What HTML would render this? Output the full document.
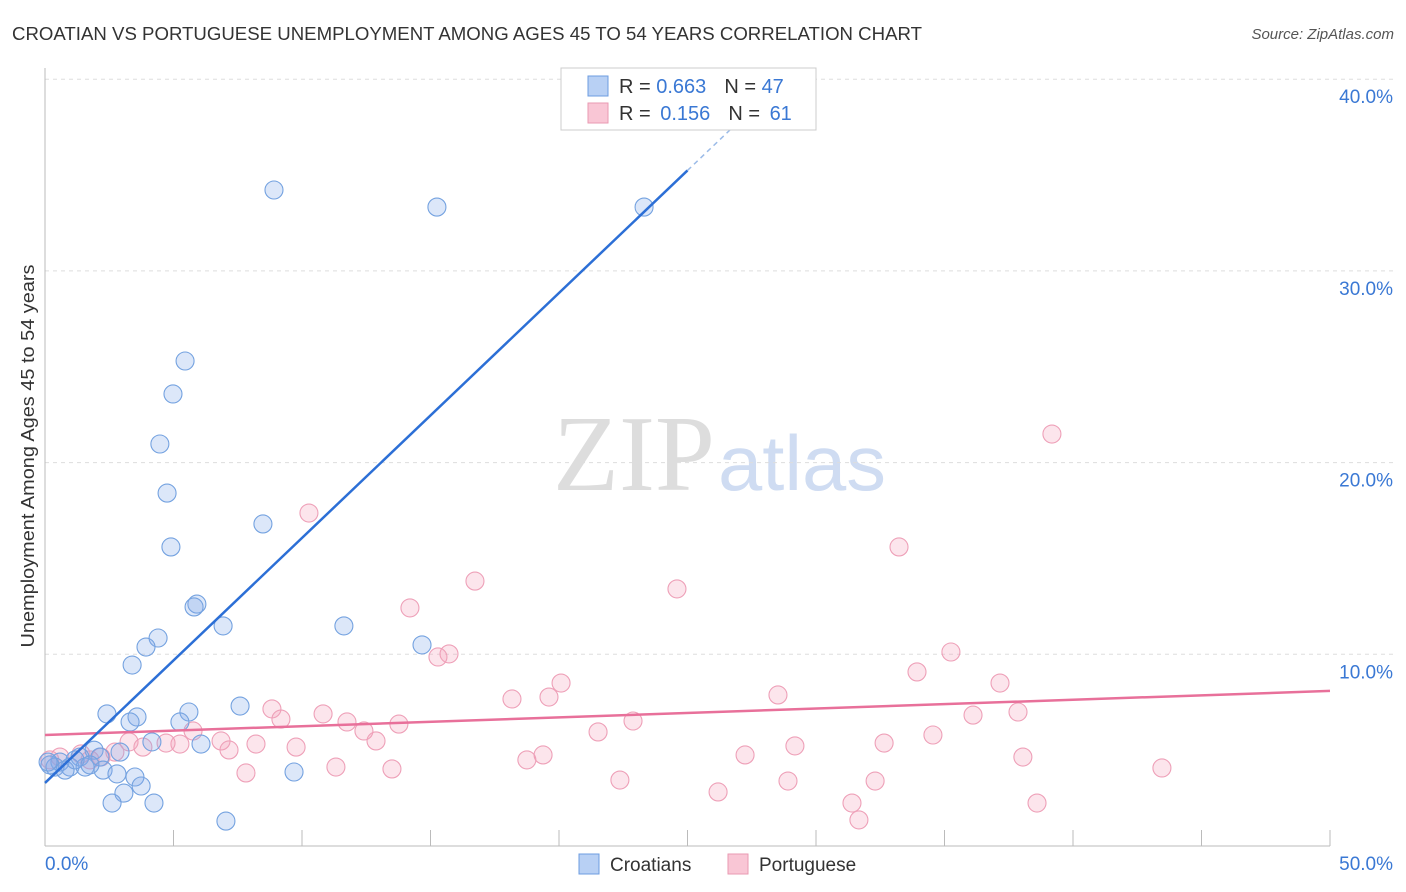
<!DOCTYPE html>
<html><head><meta charset="utf-8"><style>
body{margin:0;background:#fff;font-family:"Liberation Sans",sans-serif}
</style></head><body>
<svg width="1406" height="892" style="position:absolute;left:0;top:0">
<text x="12" y="40" font-size="18" fill="#333" textLength="910" lengthAdjust="spacingAndGlyphs">CROATIAN VS PORTUGUESE UNEMPLOYMENT AMONG AGES 45 TO 54 YEARS CORRELATION CHART</text>
<text x="1394" y="39" font-size="15" fill="#555" text-anchor="end" font-style="italic">Source: ZipAtlas.com</text>
<text x="553" y="490" font-size="108" fill="#ddd" textLength="162" lengthAdjust="spacingAndGlyphs" font-family="Liberation Serif">ZIP</text>
<text x="718" y="490" font-size="78" fill="#cfdcf2" textLength="168" lengthAdjust="spacingAndGlyphs">atlas</text>
<g id="grid"></g>
<g id="axes"></g>
<g id="marks"></g>
<text transform="translate(34,456) rotate(-90)" font-size="18" fill="#333" text-anchor="middle" textLength="383" lengthAdjust="spacingAndGlyphs">Unemployment Among Ages 45 to 54 years</text>
<g>
<rect x="561" y="68" width="255" height="62" fill="#fff" stroke="#ccc"/>
<rect x="588" y="76" width="20" height="20" fill="#b8d0f4" stroke="#6d9ce0"/>
<rect x="588" y="103" width="20" height="20" fill="#f9c6d5" stroke="#e99ab2"/>
<text x="619" y="93" font-size="20" fill="#333">R = <tspan fill="#3a78d4">0.663</tspan><tspan dx="18">N = </tspan><tspan fill="#3a78d4">47</tspan></text>
<text x="619" y="120" font-size="20" fill="#333">R = <tspan fill="#3a78d4" dx="4">0.156</tspan><tspan dx="18">N = </tspan><tspan fill="#3a78d4" dx="4">61</tspan></text>
</g>
<g>
<rect x="579" y="854" width="20" height="20" fill="#b8d0f4" stroke="#6d9ce0"/>
<text x="610" y="871" font-size="19" fill="#333">Croatians</text>
<rect x="728" y="854" width="20" height="20" fill="#f9c6d5" stroke="#e99ab2"/>
<text x="759" y="871" font-size="19" fill="#333">Portuguese</text>
</g>
</svg>
<script>
const yTicks=[10,20,30,40];
const yTickLabels=["10.0%","20.0%","30.0%","40.0%"];
const xTickLabels=["0.0%","50.0%"];
const croX=[8.91,15.25,23.31,5.45,4.98,4.47,4.75,8.48,4.9,5.91,5.8,6.93,11.63,4.4,3.93,14.67,3.39,2.41,3.58,7.59,5.6,5.25,3.31,4.16,6.07,1.91,2.92,2.14,1.36,0.58,0.97,0.39,0.19,1.56,0.78,2.26,2.8,3.5,9.69,3.74,3.07,2.61,4.24,7.04,0.12,1.17,1.75];
const croY=[34.22,33.33,33.33,25.3,23.58,20.97,18.41,16.8,15.6,12.62,12.47,11.48,11.48,10.85,10.38,10.49,9.44,6.89,6.73,7.3,6.99,6.47,6.47,5.43,5.32,5.0,4.9,4.64,4.64,4.38,4.12,4.12,4.23,4.12,3.96,3.96,3.76,3.6,3.86,3.13,2.76,2.24,2.24,1.3,4.38,4.49,4.23];
const porX=[39.18,10.27,33.23,16.73,24.59,14.2,15.72,15.29,35.25,33.93,20.08,37.16,28.52,18.17,19.61,8.83,37.86,10.82,9.18,11.75,22.88,13.77,36.11,12.41,5.76,21.52,34.55,12.88,3.27,6.85,5.25,4.71,8.21,32.65,29.18,9.77,3.81,7.16,19.38,27.24,38.05,2.18,18.75,1.4,11.32,13.5,7.82,43.46,22.37,28.91,32.3,26.19,31.4,38.6,31.67,0.58,2.72,0.19,1.75];
const porY=[21.49,17.37,15.6,13.82,13.41,12.42,10.02,9.86,10.12,9.08,8.5,8.5,7.88,7.67,7.77,7.15,6.99,6.89,6.62,6.47,6.52,6.36,6.83,6.0,6.0,5.95,5.79,5.48,5.43,5.48,5.32,5.37,5.32,5.37,5.22,5.16,5.16,5.01,4.75,4.75,4.64,4.64,4.49,4.8,4.12,4.02,3.81,4.07,3.44,3.39,3.39,2.82,2.24,2.24,1.36,4.64,4.9,4.49,4.49];
const croTrend=[3.29,1.278]; // intercept, slope
const porTrend=[5.79,0.046];
const X=v=>45+v*25.7, Y=v=>846-v*19.17;
const NS='http://www.w3.org/2000/svg';
function mk(tag,attrs,parent){const e=document.createElementNS(NS,tag);for(const k in attrs)e.setAttribute(k,attrs[k]);document.getElementById(parent).appendChild(e);return e;}
yTicks.forEach((t,i)=>{
 const l=mk('line',{x1:45,x2:1393,y1:Y(t),y2:Y(t),stroke:'#ddd','stroke-dasharray':'4,4'},'grid');
 
 
 const tx=mk('text',{x:1393,y:Y(t)+24,'font-size':19,fill:'#3a78d4','text-anchor':'end'},'grid');
 tx.textContent=yTickLabels[i];
 
 
});
let a=mk('line',{x1:45,x2:45,y1:68,y2:846,stroke:'#bbb'},'axes');


a=mk('line',{x1:45,x2:1330,y1:846,y2:846,stroke:'#bbb'},'axes');


for(let v=5;v<=50;v+=5){const t=mk('line',{x1:X(v),x2:X(v),y1:830,y2:846,stroke:'#bbb'},'axes');
 
 }
[[0,45,'start'],[50,1393,'end']].forEach((d,i)=>{const t=mk('text',{x:d[1],y:870,'font-size':19,fill:'#3a78d4','text-anchor':d[2]},'axes');t.textContent=xTickLabels[i];
 
 });
porX.forEach((x,i)=>{const c=mk('circle',{cx:X(x),cy:Y(porY[i]),r:9,fill:'rgba(245,160,185,0.28)',stroke:'#eea0b8','stroke-width':1.1},'marks');
 
 });
croX.forEach((x,i)=>{const c=mk('circle',{cx:X(x),cy:Y(croY[i]),r:9,fill:'rgba(130,170,235,0.28)',stroke:'#74a2e0','stroke-width':1.1},'marks');
 
 });
let l=mk('line',{x1:X(0),y1:Y(porTrend[0]),x2:X(50),y2:Y(porTrend[0]+porTrend[1]*50),stroke:'#e8709a','stroke-width':2.5},'marks');


l=mk('line',{x1:X(0),y1:Y(croTrend[0]),x2:X(25),y2:Y(croTrend[0]+croTrend[1]*25),stroke:'#2c6fd6','stroke-width':2.5},'marks');


l=mk('line',{x1:X(25),y1:Y(croTrend[0]+croTrend[1]*25),x2:X(27),y2:Y(croTrend[0]+croTrend[1]*27),stroke:'#9bbbe8','stroke-width':1.5,'stroke-dasharray':'5,4'},'marks');


</script>
</body></html>
